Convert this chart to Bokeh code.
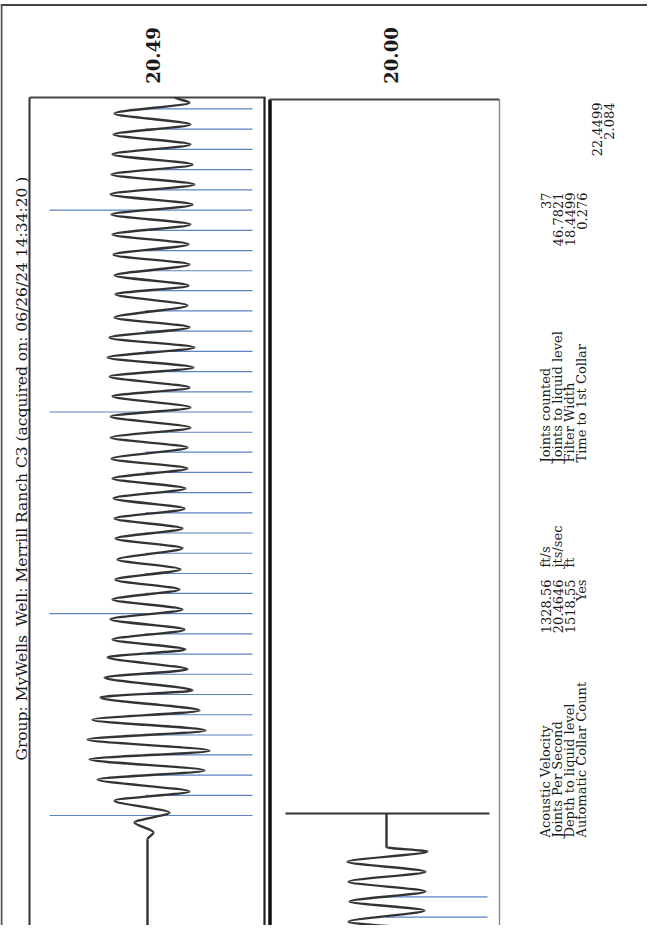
import math
from bokeh.plotting import figure
from bokeh.models import Range1d, ColumnDataSource
from bokeh.core.properties import value
from bokeh.embed import file_html
from bokeh.resources import INLINE

# ---------------- data ----------------
# collar (joint) marker times, seconds
collar_times = [0.276, 0.325, 0.374, 0.423, 0.471, 0.520, 0.569, 0.618, 0.667, 0.716,
                0.765, 0.814, 0.862, 0.911, 0.960, 1.009, 1.058, 1.107, 1.156, 1.204,
                1.253, 1.302, 1.351, 1.400, 1.449, 1.498, 1.547, 1.595, 1.644, 1.693,
                1.742, 1.791, 1.840, 1.889, 1.938, 1.987, 2.035, 2.084]
long_marker_idx = [0, 10, 20, 30]
liquid_level_time = 2.286

# trace of panel 1 : extrema (time s, amplitude)
trace1_t = [0.000, 0.218, 0.235, 0.259, 0.283, 0.312, 0.334, 0.363, 0.385, 0.412,
            0.433, 0.460, 0.482, 0.508, 0.530, 0.562, 0.579, 0.610, 0.630, 0.659,
            0.678, 0.702, 0.726, 0.751, 0.775, 0.799, 0.823, 0.847, 0.872, 0.896,
            0.923, 0.947, 0.971, 0.995, 1.019, 1.044, 1.068, 1.092, 1.116, 1.140,
            1.167, 1.191, 1.215, 1.242, 1.264, 1.291, 1.312, 1.339, 1.361, 1.385,
            1.409, 1.433, 1.458, 1.482, 1.511, 1.538, 1.559, 1.584, 1.610, 1.634,
            1.659, 1.683, 1.707, 1.731, 1.755, 1.780, 1.804, 1.828, 1.852, 1.877,
            1.901, 1.925, 1.949, 1.976, 2.002, 2.015]
trace1_amp = [-0.03, -0.03, 0.03, -0.16, 0.19, -0.36, 0.39, -0.53, 0.54, -0.61,
              0.59, -0.63, 0.55, -0.58, 0.49, -0.50, 0.42, -0.46, 0.37, -0.43,
              0.35, -0.38, 0.34, -0.40, 0.32, -0.38, 0.29, -0.35, 0.30, -0.33,
              0.32, -0.35, 0.32, -0.36, 0.34, -0.37, 0.35, -0.38, 0.37, -0.39,
              0.37, -0.40, 0.40, -0.40, 0.40, -0.38, 0.39, -0.41, 0.43, -0.43,
              0.44, -0.41, 0.39, -0.36, 0.37, -0.35, 0.38, -0.36, 0.39, -0.37,
              0.38, -0.38, 0.40, -0.39, 0.42, -0.40, 0.44, -0.39, 0.42, -0.38,
              0.40, -0.37, 0.40, -0.36, 0.39, 0.24]

# trace of panel 2 (liquid level zoom)
trace2_t = [1.976, 2.003, 2.024, 2.051, 2.073, 2.097, 2.121, 2.145, 2.169, 2.194, 2.204, 2.286]
trace2_amp = [-0.38, 0.39, -0.38, 0.38, -0.37, 0.39, -0.38, 0.39, -0.39, 0.41, 0.0, 0.0]

header_group = "Group: MyWells"
header_well = "Well: Merrill Ranch C3 (acquired on: 06/26/24 14:34:20 )"
panel_labels = ["20.49", "20.00"]
left_labels = ["Acoustic Velocity", "Joints Per Second", "Depth to liquid level", "Automatic Collar Count"]
left_values = ["1328.56", "20.4646", "1518.55", "Yes"]
left_units = ["ft/s", "jts/sec", "ft", ""]
right_labels = ["Joints counted", "Joints to liquid level", "Filter Width", "Time to 1st Collar"]
right_values = ["37", "46.7821", "18.4499", "0.276"]
extra_values = ["22.4499", "2.084"]

# ---------------- figure (page-like coordinates) ----------------
W, H = 647, 925
p = figure(width=W, height=H, x_range=Range1d(0, W), y_range=Range1d(H, 0),
           output_backend="svg", toolbar_location=None, min_border=0,
           outline_line_color=None, background_fill_color="white")
p.axis.visible = False
p.grid.visible = False

# panel scales (time runs upward, amplitude across)
p.extra_x_ranges = {"amp1": Range1d(-1.5, 4.97), "amp2": Range1d(-3.86, 2.61)}
p.extra_y_ranges = {"t1": Range1d(0.00969, 2.2494), "t2": Range1d(2.01477, 4.2545)}

FONT = value("DejaVu Serif")
INK = "#1a1a1a"
BLUE = "#5b84c4"

# frames
frame_x0 = [0, 1, 29, 29, 264, 269.5, 269, 499]
frame_y0 = [4.5, 4, 97, 97, 97, 99, 99, 99]
frame_x1 = [W, 1, 265, 29, 264, 269.5, 499, 499]
frame_y1 = [4.5, H, 97, H, H, H, 99, H]
frame_w = [2, 2, 2, 2, 2.2, 3.5, 2, 1.4]
frame_c = ["#444", "#555", "#444", "#333", "#222", "#111", "#444", "#888"]
p.segment(x0=frame_x0, y0=frame_y0, x1=frame_x1, y1=frame_y1,
          line_width=frame_w, line_color=frame_c)


def wave(ts, amps, xr, yr):
    n = len(ts) - 1
    k = 0.27
    src = ColumnDataSource(dict(
        x0=amps[:-1], y0=ts[:-1], x1=amps[1:], y1=ts[1:],
        cx0=amps[:-1], cy0=[ts[i] + k * (ts[i + 1] - ts[i]) for i in range(n)],
        cx1=amps[1:], cy1=[ts[i + 1] - k * (ts[i + 1] - ts[i]) for i in range(n)]))
    p.bezier(x0="x0", y0="y0", x1="x1", y1="y1", cx0="cx0", cy0="cy0",
             cx1="cx1", cy1="cy1", source=src, line_color="#333333",
             line_width=2.4, x_range_name=xr, y_range_name=yr)


# collar markers panel 1
m1 = [t for t in collar_times if t < 2.01]
m1_start = [-1.01 if i in long_marker_idx else -0.05 for i in range(len(m1))]
p.segment(x0=m1_start, y0=m1, x1=[1.02] * len(m1), y1=m1, line_color=BLUE,
          line_width=1.2, x_range_name="amp1", y_range_name="t1")
wave(trace1_t, trace1_amp, "amp1", "t1")

# panel 2
m2 = [t for t in collar_times if t >= 2.01]
p.segment(x0=[-0.01] * len(m2), y0=m2, x1=[1.01] * len(m2), y1=m2, line_color=BLUE,
          line_width=1.2, x_range_name="amp2", y_range_name="t2")
wave(trace2_t, trace2_amp, "amp2", "t2")
p.segment(x0=[-1.01], y0=[liquid_level_time], x1=[1.03], y1=[liquid_level_time],
          line_color="#333333", line_width=2, x_range_name="amp2", y_range_name="t2")

# ---------------- texts ----------------
A = math.pi / 2
p.text(x=[21, 21], y=[760, 626], text=[header_group, header_well], angle=A,
       text_align="left", text_baseline="middle", text_font=FONT,
       text_font_size="15.5px", text_color=INK)
p.text(x=[152, 390], y=[55, 55], text=panel_labels, angle=A, text_align="center",
       text_baseline="middle", text_font=FONT, text_font_size="18px",
       text_font_style="bold", text_color=INK)

cols = [545, 557, 569, 581]
common = dict(angle=A, text_baseline="middle", text_font=FONT,
              text_font_size="13px", text_color=INK)
p.text(x=cols, y=[837] * 4, text=left_labels, text_align="left", **common)
p.text(x=cols, y=[579] * 4, text=left_values, text_align="right", **common)
p.text(x=cols, y=[567] * 4, text=left_units, text_align="left", **common)
p.text(x=cols, y=[462] * 4, text=right_labels, text_align="left", **common)
p.text(x=cols, y=[192] * 4, text=right_values, text_align="right", **common)
p.text(x=[596, 608], y=[102, 102], text=extra_values, text_align="right", **common)

open("out.html", "w").write(file_html(p, INLINE))
